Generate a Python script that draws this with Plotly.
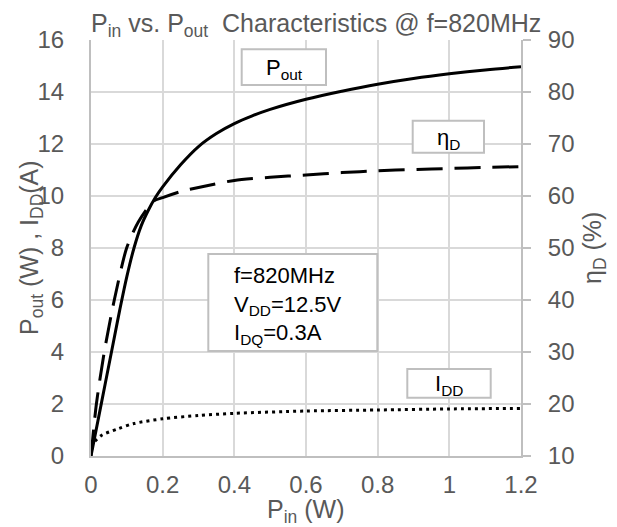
import plotly.graph_objects as go

# ---------------- data ----------------
pin_pout = [0, 0.03, 0.06, 0.08, 0.1, 0.12, 0.14, 0.16, 0.18, 0.2, 0.25, 0.3, 0.35,
            0.4, 0.45, 0.5, 0.6, 0.7, 0.8, 0.9, 1.0, 1.1, 1.2]
pout_w = [0, 2.1, 4.2, 5.6, 6.9, 8.0, 8.85, 9.45, 9.95, 10.35, 11.2, 11.9, 12.4,
          12.78, 13.08, 13.33, 13.72, 14.03, 14.3, 14.52, 14.7, 14.85, 14.97]

pin_eta = [0, 0.015, 0.037, 0.065, 0.0995, 0.132, 0.174, 0.2, 0.25, 0.3, 0.4, 0.5,
           0.6, 0.7, 0.8, 0.9, 1.0, 1.1, 1.2]
eta_d = [10, 20, 30, 40, 50, 55, 59, 59.7, 60.85, 61.65, 63, 63.6,
         64.05, 64.5, 64.85, 65.1, 65.3, 65.5, 65.65]

pin_idd = [0, 0.01, 0.03, 0.076, 0.12, 0.2, 0.3, 0.4, 0.6, 0.8, 1.0, 1.2]
idd_a = [0.35, 0.55, 0.8, 1.05, 1.25, 1.43, 1.56, 1.64, 1.73, 1.77, 1.81, 1.83]

x_range = [0, 1.2]
y_range = [0, 16]
y2_range = [10, 90]

# ---------------- layout helpers ----------------
W, H = 617, 527
L, R, T, B = 91, 521, 40, 456          # plot area in pixels
FONT = "Liberation Sans, Arial, sans-serif"
TXT = "#595959"
GRID = "#d9d9d9"
AXIS = "#bfbfbf"


def px2x(px):
    return (px - L) / (R - L) * (x_range[1] - x_range[0]) + x_range[0]


def py2y(py):
    return (B - py) / (B - T) * (y_range[1] - y_range[0]) + y_range[0]


def ppx(px):
    return (px - L) / (R - L)


def ppy(py):
    return (B - py) / (B - T)


fig = go.Figure()
fig.add_trace(go.Scatter(x=pin_pout, y=pout_w, mode="lines", name="Pout",
                         line=dict(color="black", width=3, shape="spline", smoothing=1)))
fig.add_trace(go.Scatter(x=pin_eta, y=eta_d, mode="lines", name="eta", yaxis="y2",
                         line=dict(color="black", width=3, dash="26px,12px",
                                   shape="spline", smoothing=0.7)))
fig.add_trace(go.Scatter(x=pin_idd, y=idd_a, mode="lines", name="IDD",
                         line=dict(color="black", width=3, dash="3px,4px",
                                   shape="spline", smoothing=0.8)))

# label boxes (pixel rectangles), drawn between grid and traces
boxes = [(241.7, 49.3, 326, 85), (412.7, 120.7, 484, 152.7),
         (407.3, 369, 490.7, 397.7), (208.3, 254, 377.3, 351)]
shapes = []
for x0, y0, x1, y1 in boxes:
    shapes.append(dict(type="rect", xref="x", yref="y", layer="between",
                       x0=px2x(x0), x1=px2x(x1), y0=py2y(y1), y1=py2y(y0),
                       line=dict(color=AXIS, width=2), fillcolor="white"))

ann = []
af = dict(family=FONT, size=22, color="black")
ann.append(dict(xref="paper", yref="paper", x=ppx(284), y=ppy(69), text="P<sub>out</sub>",
                showarrow=False, font=af, xanchor="center", yanchor="middle"))
ann.append(dict(xref="paper", yref="paper", x=ppx(448), y=ppy(139), text="η<sub>D</sub>",
                showarrow=False, font=af, xanchor="center", yanchor="middle"))
ann.append(dict(xref="paper", yref="paper", x=ppx(449), y=ppy(385), text="I<sub>DD</sub>",
                showarrow=False, font=af, xanchor="center", yanchor="middle"))
ann.append(dict(xref="paper", yref="paper", x=ppx(232), y=ppy(305),
                text="f=820MHz<br>V<sub>DD</sub>=12.5V<br>I<sub>DQ</sub>=0.3A",
                showarrow=False, font=af, xanchor="left", yanchor="middle", align="left"))
# title and axis titles
tf = dict(family=FONT, size=25, color=TXT)
ann.append(dict(xref="paper", yref="paper", x=ppx(316), y=ppy(25),
                text="P<sub>in</sub> vs. P<sub>out</sub>\u00a0 Characteristics @ f=820MHz",
                showarrow=False, font=tf, xanchor="center", yanchor="middle"))
ann.append(dict(xref="paper", yref="paper", x=ppx(306), y=ppy(511),
                text="P<sub>in</sub> (W)", showarrow=False, font=tf,
                xanchor="center", yanchor="middle"))
ann.append(dict(xref="paper", yref="paper", x=ppx(31), y=ppy(248),
                text="P<sub>out</sub> (W) , I<sub>DD</sub>(A)", showarrow=False, font=tf,
                textangle=-90, xanchor="center", yanchor="middle"))
ann.append(dict(xref="paper", yref="paper", x=ppx(594), y=ppy(248),
                text="η<sub>D</sub> (%)", showarrow=False, font=tf,
                textangle=-90, xanchor="center", yanchor="middle"))

tick_font = dict(family=FONT, size=24, color=TXT)
fig.update_layout(
    width=W, height=H, autosize=False,
    margin=dict(l=L, r=W - R, t=T, b=H - B, pad=0),
    paper_bgcolor="white", plot_bgcolor="white",
    showlegend=False,
    font=dict(family=FONT, color=TXT),
    shapes=shapes, annotations=ann,
    xaxis=dict(range=x_range, dtick=0.2, tick0=0, showgrid=True, gridcolor=GRID, gridwidth=2,
               showline=True, linecolor=AXIS, linewidth=2, zeroline=False, ticks="",
               tickfont=tick_font, ticklabelstandoff=6, fixedrange=True),
    yaxis=dict(range=y_range, dtick=2, tick0=0, showgrid=True, gridcolor=GRID, gridwidth=2,
               showline=True, linecolor=AXIS, linewidth=2, zeroline=False, ticks="",
               tickfont=tick_font, ticklabelstandoff=20, fixedrange=True),
    yaxis2=dict(range=y2_range, dtick=10, tick0=10, overlaying="y", side="right",
                showgrid=False, showline=True, linecolor=AXIS, linewidth=2, zeroline=False,
                ticks="outside", ticklen=8, tickwidth=2, tickcolor=AXIS,
                tickfont=tick_font, ticklabelstandoff=12, fixedrange=True),
)

fig.write_html("out.html", include_plotlyjs=True, config={"displayModeBar": False})
